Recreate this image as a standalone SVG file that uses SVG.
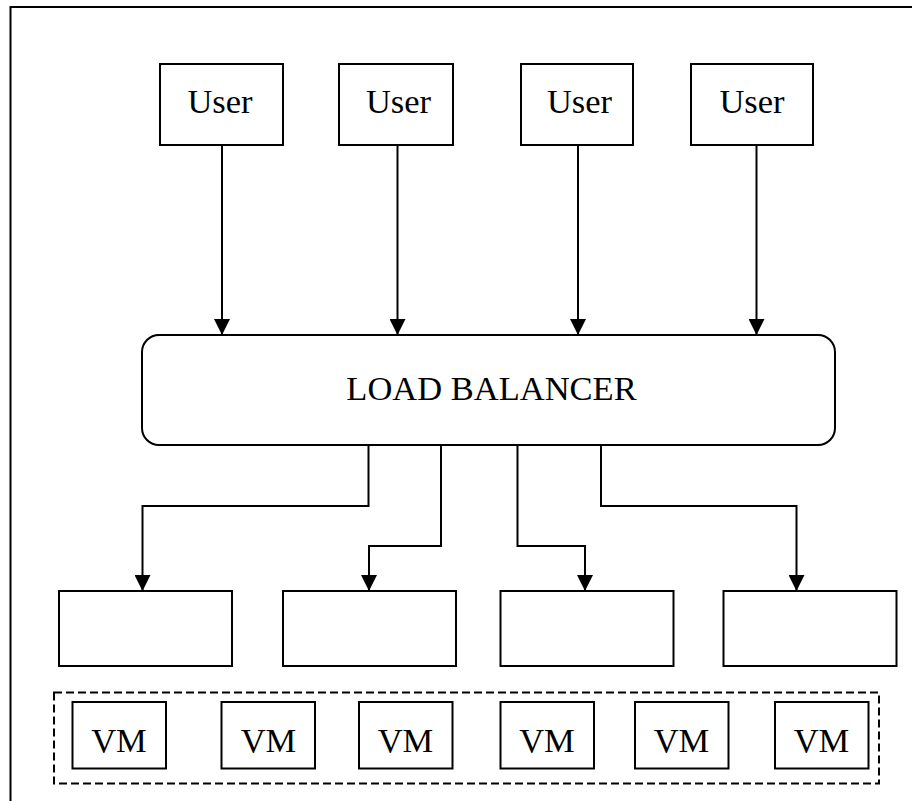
<svg xmlns="http://www.w3.org/2000/svg" width="912" height="801" viewBox="0 0 912 801">
  <style>
    .box { fill: #fff; stroke: #000; stroke-width: 2; }
    .lbl { font-family: "Liberation Serif", "Times New Roman", serif; font-size: 34.5px; fill: #000; text-anchor: middle; }
    .wire { fill: none; stroke: #000; stroke-width: 2; marker-end: url(#arrow); }
    .pool { fill: none; stroke: #000; stroke-width: 2; stroke-dasharray: 8 4; }
  </style>
  <defs>
    <marker id="arrow" markerUnits="userSpaceOnUse" markerWidth="16" markerHeight="16" refX="16" refY="8" orient="auto">
      <path d="M0,0 L16,8 L0,16 Z" fill="#000"/>
    </marker>
  </defs>

  <rect width="912" height="801" fill="#fff"/>
  <!-- outer frame, running off the right and bottom edges -->
  <rect x="10.5" y="7" width="1000" height="900" fill="none" stroke="#000" stroke-width="2"/>

  <!-- users -->
  <g id="user1"><rect class="box" x="160" y="64" width="123" height="81"/><text class="lbl" x="220" y="113">User</text></g>
  <g id="user2"><rect class="box" x="339" y="64" width="114" height="81"/><text class="lbl" x="398.5" y="113">User</text></g>
  <g id="user3"><rect class="box" x="521" y="64" width="112" height="81"/><text class="lbl" x="579.5" y="113">User</text></g>
  <g id="user4"><rect class="box" x="691" y="64" width="122" height="81"/><text class="lbl" x="752" y="113">User</text></g>

  <!-- load balancer -->
  <g id="load-balancer">
    <rect class="box" x="142" y="335" width="693" height="110" rx="17" ry="17"/>
    <text class="lbl" x="491.5" y="400">LOAD BALANCER</text>
  </g>

  <!-- servers -->
  <g id="server1"><rect class="box" x="59" y="591" width="173" height="75"/></g>
  <g id="server2"><rect class="box" x="283" y="591" width="173" height="75"/></g>
  <g id="server3"><rect class="box" x="500.5" y="591" width="173" height="75"/></g>
  <g id="server4"><rect class="box" x="723.5" y="591" width="173" height="75"/></g>

  <!-- VM pool -->
  <g id="vm-pool">
    <rect class="pool" x="54" y="692.5" width="825" height="91"/>
  </g>
  <g id="vm1"><rect class="box" x="72.5" y="702" width="93.5" height="66.5"/><text class="lbl" x="119" y="751.5">VM</text></g>
  <g id="vm2"><rect class="box" x="221.5" y="702" width="93.5" height="66.5"/><text class="lbl" x="268.5" y="751.5">VM</text></g>
  <g id="vm3"><rect class="box" x="359" y="702" width="93.5" height="66.5"/><text class="lbl" x="405.5" y="751.5">VM</text></g>
  <g id="vm4"><rect class="box" x="500.5" y="702" width="93.5" height="66.5"/><text class="lbl" x="547" y="751.5">VM</text></g>
  <g id="vm5"><rect class="box" x="635" y="702" width="93.5" height="66.5"/><text class="lbl" x="681.5" y="751.5">VM</text></g>
  <g id="vm6"><rect class="box" x="775" y="702" width="93.5" height="66.5"/><text class="lbl" x="821.5" y="751.5">VM</text></g>

  <!-- connectors -->
  <g id="connectors">
    <path class="wire" d="M222,145 V335"/>
    <path class="wire" d="M397.5,145 V335"/>
    <path class="wire" d="M578,145 V335"/>
    <path class="wire" d="M756.5,145 V335"/>

    <path class="wire" d="M368.5,445 V506 H142.5 V591"/>
    <path class="wire" d="M441,445 V546 H369 V591"/>
    <path class="wire" d="M517.5,445 V546 H585 V591"/>
    <path class="wire" d="M601,445 V506 H796.5 V591"/>
  </g>
</svg>
